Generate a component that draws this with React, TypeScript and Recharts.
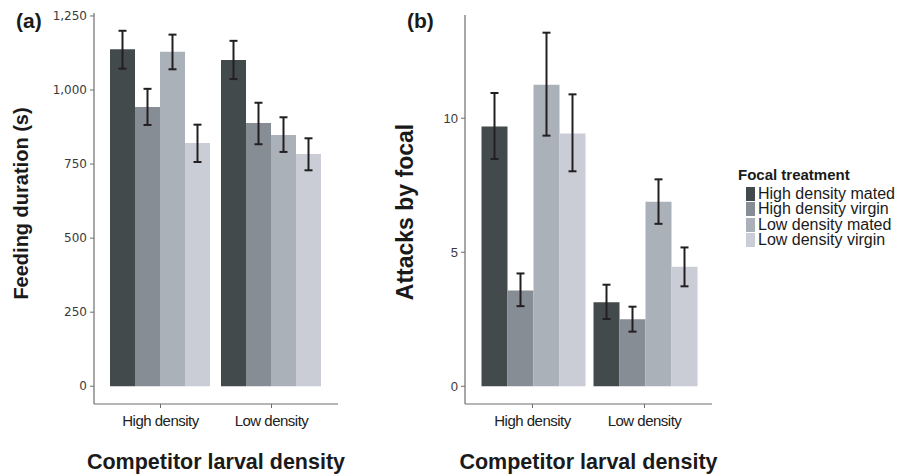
import React from 'react'
import { BarChart, Bar, XAxis, YAxis, ErrorBar } from 'recharts'

// groups on the x axis
const categories = ['High density', 'Low density']

// focal treatment series
const seriesNames = ['High density mated', 'High density virgin', 'Low density mated', 'Low density virgin']
const seriesColors = ['#424a4c', '#868d94', '#abb1b8', '#cacdd5']

// (a) feeding duration (s), per series: [High density, Low density]
const feedingMean = [[1138, 1101], [943, 889], [1129, 848], [821, 784]]
const feedingLower = [[1072, 1037], [882, 817], [1070, 791], [757, 729]]
const feedingUpper = [[1200, 1166], [1004, 957], [1187, 908], [883, 837]]
const feedingTicks = [0, 250, 500, 750, 1000, 1250]

// (b) attacks by focal
const attacksMean = [[9.69, 3.14], [3.57, 2.5], [11.25, 6.88], [9.43, 4.46]]
const attacksLower = [[8.48, 2.51], [2.99, 2.04], [9.35, 6.06], [8.02, 3.73]]
const attacksUpper = [[10.94, 3.79], [4.21, 2.97], [13.19, 7.72], [10.89, 5.18]]
const attacksTicks = [0, 5, 10]

const FRAME = '#6e6e6e'
const INK = '#231f20'
const SANS = '"Liberation Sans", Arial, sans-serif'

const buildRows = (mean: number[][], lower: number[][], upper: number[][]) =>
  categories.map((cat, ci) => {
    const row: Record<string, unknown> = { cat }
    seriesNames.forEach((_, si) => {
      const v = mean[si][ci]
      row[`s${si}`] = v
      row[`e${si}`] = [v - lower[si][ci], upper[si][ci] - v]
    })
    return row
  })

// ggplot-style 5% expansion around [0, max]
const expandedDomain = (upper: number[][]): [number, number] => {
  const max = Math.max(...upper.flat())
  return [-max * 0.05, max * 1.05]
}

interface PanelProps {
  tag: string
  yTitle: string
  yTitleSize: number
  yTitleX: number
  yTitleShift: number
  rows: Record<string, unknown>[]
  domain: [number, number]
  ticks: number[]
  tickFont: { fontFamily: string; fontSize: number }
  width: number
  yAxisWidth: number
  top: number
  right: number
  pad: number
  formatter?: (v: number) => string
}

function Panel({
  tag, yTitle, yTitleSize, yTitleX, yTitleShift, rows, domain, ticks, tickFont,
  width, yAxisWidth, top, right, pad, formatter,
}: PanelProps) {
  return (
    <BarChart
      width={width}
      height={475}
      data={rows}
      margin={{ top, right, left: 0, bottom: 0 }}
      barGap={0}
      barCategoryGap={5}
    >
      <XAxis
        dataKey="cat"
        height={71}
        padding={{ left: pad, right: pad }}
        axisLine={{ stroke: FRAME, strokeWidth: 1.2 }}
        tickLine={{ stroke: FRAME }}
        tickSize={4}
        tickMargin={7}
        tick={{ fontFamily: SANS, fontSize: 15, letterSpacing: -0.5, fill: '#222' }}
        label={{
          content: ({ viewBox }: any) => (
            <text
              x={viewBox.x + viewBox.width / 2}
              y={469}
              textAnchor="middle"
              fontFamily={SANS}
              fontWeight="bold"
              fontSize={21.5}
              fill="#1a1a1a"
            >
              Competitor larval density
            </text>
          ),
        }}
      />
      <XAxis xAxisId="top" orientation="top" dataKey="cat" height={0} tick={false} tickLine={false} axisLine={{ stroke: FRAME, strokeWidth: 1.2 }} />
      <YAxis
        width={yAxisWidth}
        domain={domain}
        allowDataOverflow
        ticks={ticks}
        axisLine={{ stroke: FRAME, strokeWidth: 1.2 }}
        tickLine={{ stroke: FRAME }}
        tickSize={4}
        tickMargin={3}
        tick={{ ...tickFont, fill: '#3a3a3a' }}
        tickFormatter={formatter}
        label={{
          content: ({ viewBox }: any) => {
            const cy = viewBox.y + viewBox.height / 2 + yTitleShift
            return (
              <g>
                <text x={viewBox.x + 16 + (tag === '(b)' ? 21 : 0)} y={28} fontFamily={SANS} fontWeight="bold" fontSize={21} fill="#1a1a1a">
                  {tag}
                </text>
                <text
                  x={yTitleX}
                  y={cy}
                  transform={`rotate(-90, ${yTitleX}, ${cy})`}
                  textAnchor="middle"
                  fontFamily={SANS}
                  fontWeight="bold"
                  fontSize={yTitleSize}
                  fill="#1a1a1a"
                >
                  {yTitle}
                </text>
              </g>
            )
          },
        }}
      />
      <YAxis yAxisId="right" orientation="right" width={0} domain={domain} allowDataOverflow tick={false} tickLine={false} axisLine={{ stroke: FRAME, strokeWidth: 1.2 }} />
      {seriesNames.map((name, i) => (
        <Bar key={name} dataKey={`s${i}`} name={name} fill={seriesColors[i]} isAnimationActive={false}>
          <ErrorBar dataKey={`e${i}`} direction="y" width={4} stroke={INK} strokeWidth={2} />
        </Bar>
      ))}
    </BarChart>
  )
}

function FocalLegend() {
  return (
    <div style={{ position: 'absolute', left: 738, top: 166, fontFamily: SANS, color: '#1a1a1a' }}>
      <div style={{ fontWeight: 'bold', fontSize: 15, lineHeight: '18px', marginBottom: 2 }}>Focal treatment</div>
      {seriesNames.map((name, i) => (
        <div key={name} style={{ display: 'flex', alignItems: 'center', height: 15.5, fontSize: 16 }}>
          <span style={{ display: 'inline-block', width: 9, height: 14, background: seriesColors[i], marginLeft: 8, marginRight: 3 }} />
          <span>{name}</span>
        </div>
      ))}
    </div>
  )
}

export default function App() {
  const feedingRows = buildRows(feedingMean, feedingLower, feedingUpper)
  const attacksRows = buildRows(attacksMean, attacksLower, attacksUpper)

  return (
    <div style={{ position: 'absolute', left: 0, top: 0, width: 899, height: 475, background: '#fff' }}>
      <div style={{ position: 'absolute', left: 0, top: 0 }}>
        <Panel
          tag="(a)"
          yTitle="Feeding duration (s)"
          yTitleSize={20}
          yTitleX={27.5}
          yTitleShift={-5}
          rows={feedingRows}
          domain={expandedDomain(feedingUpper)}
          ticks={feedingTicks}
          tickFont={{ fontFamily: '"DejaVu Sans", sans-serif', fontSize: 12 }}
          width={350}
          yAxisWidth={94}
          top={13}
          right={12}
          pad={11}
          formatter={(v: number) => v.toLocaleString('en-US')}
        />
      </div>
      <div style={{ position: 'absolute', left: 370, top: 0 }}>
        <Panel
          tag="(b)"
          yTitle="Attacks by focal"
          yTitleSize={23}
          yTitleX={43}
          yTitleShift={2.5}
          rows={attacksRows}
          domain={expandedDomain(attacksUpper)}
          ticks={attacksTicks}
          tickFont={{ fontFamily: SANS, fontSize: 13 }}
          width={360}
          yAxisWidth={95}
          top={15}
          right={18}
          pad={11.5}
        />
      </div>
      <FocalLegend />
    </div>
  )
}
